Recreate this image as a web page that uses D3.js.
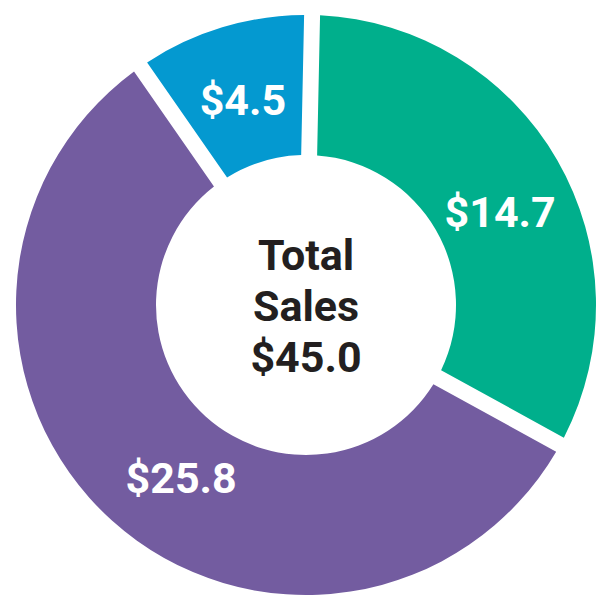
<!DOCTYPE html>
<html>
<head>
<meta charset="utf-8">
<script src="https://cdn.jsdelivr.net/npm/d3@7"></script>
<style>
  html, body { margin: 0; padding: 0; background: #ffffff; }
  svg { display: block; }
</style>
</head>
<body>
<svg id="chart" width="609" height="610"></svg>
<script>
// ---- data ----
const categories = ["Segment 1", "Segment 2", "Segment 3"];
const values = [14.7, 25.8, 4.5];
const valueLabels = ["$14.7", "$25.8", "$4.5"];
const colors = ["#00af8c", "#735ca0", "#0499d0"];
const centerLines = ["Total", "Sales", "$45.0"];

// ---- layout ----
const W = 609, H = 610;
const cx = 306, cy = 305;
const outerR = 290, innerR = 150;
const rotation = 0.021; // slight clockwise start offset (radians)
const labelNudge = { "Segment 1": [8, 14], "Segment 2": [19, 13], "Segment 3": [-1, 1] };

const svg = d3.select("#chart");
const g = svg.append("g").attr("transform", `translate(${cx},${cy})`);

const color = d3.scaleOrdinal().domain(categories).range(colors);

const data = categories.map((c, i) => ({ cat: c, value: values[i], label: valueLabels[i] }));

const pie = d3.pie()
  .sort(null)
  .value(d => d.value)
  .startAngle(rotation)
  .endAngle(rotation + 2 * Math.PI);

const arcs = pie(data);

const arc = d3.arc()
  .innerRadius(innerR)
  .outerRadius(outerR)
  .padAngle(0.055)
  .padRadius(outerR);

g.selectAll("path.slice")
  .data(arcs)
  .join("path")
  .attr("class", "slice")
  .attr("d", arc)
  .attr("fill", d => color(d.data.cat));

const labelArc = d3.arc().innerRadius(215).outerRadius(215);

const fontFamily = "Roboto, 'DejaVu Sans', sans-serif";

g.selectAll("text.val")
  .data(arcs)
  .join("text")
  .attr("class", "val")
  .attr("x", d => labelArc.centroid(d)[0] + labelNudge[d.data.cat][0])
  .attr("y", d => labelArc.centroid(d)[1] + labelNudge[d.data.cat][1])
  .attr("dy", "0.35em")
  .attr("text-anchor", "middle")
  .attr("fill", "#ffffff")
  .attr("font-family", fontFamily)
  .attr("font-weight", "bold")
  .attr("font-size", 43)
  .text(d => d.data.label);

const center = g.append("text")
  .attr("text-anchor", "middle")
  .attr("fill", "#231f20")
  .attr("font-family", fontFamily)
  .attr("font-weight", "bold")
  .attr("font-size", 43);

center.selectAll("tspan")
  .data(centerLines)
  .join("tspan")
  .attr("x", 0)
  .attr("y", (d, i) => -35 + i * 51)
  .text(d => d);
</script>
</body>
</html>
